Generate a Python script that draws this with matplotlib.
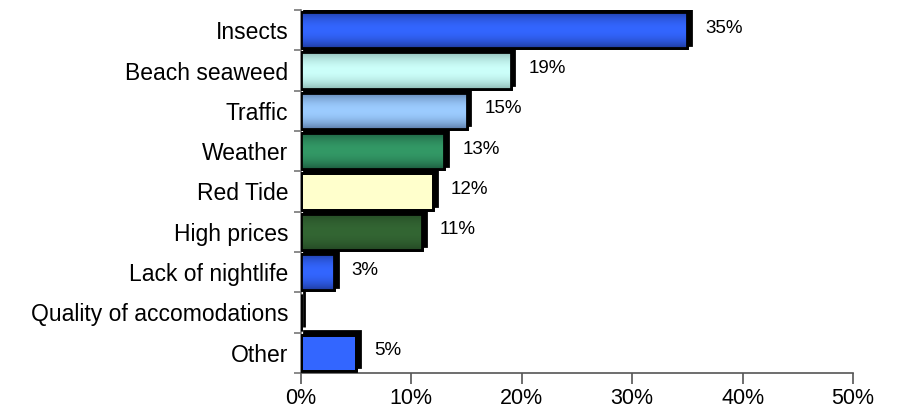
import numpy as np
import matplotlib.pyplot as plt
from matplotlib.colors import to_rgb
from matplotlib.transforms import ScaledTranslation
from matplotlib.ticker import PercentFormatter

# data
categories = ["Insects", "Beach seaweed", "Traffic", "Weather", "Red Tide",
              "High prices", "Lack of nightlife", "Quality of accomodations", "Other"]
values = [35, 19, 15, 13, 12, 11, 3, 0, 5]
labels = ["35%", "19%", "15%", "13%", "12%", "11%", "3%", "", "5%"]

# fill colours: (edge of gradient, centre of gradient)
fills = [("#1E3A9C", "#3366FF"),
         ("#8DB9B3", "#CCFFFA"),
         ("#5A7AA6", "#9CCCFF"),
         ("#1C5A3E", "#339966"),
         ("#FFFFCC", "#FFFFCC"),
         ("#244824", "#336633"),
         ("#1E3A9C", "#3366FF"),
         ("#3366FF", "#3366FF"),
         ("#3366FF", "#3366FF")]

plt.rcParams['font.family'] = ['Liberation Sans', 'DejaVu Sans']

fig = plt.figure(figsize=(9.03, 4.12), dpi=100)
ax = fig.add_axes([0.3333, 0.0947, 0.6113, 0.881])

y = np.arange(len(categories))
h = 0.9

# drop shadow: same bars shifted up and right
shift = ax.transData + ScaledTranslation(0.035, 0.035, fig.dpi_scale_trans)
ax.barh(y, values, height=h, color='black', edgecolor='black', linewidth=2,
        transform=shift, zorder=1)

bars = ax.barh(y, values, height=h, color=[f[1] for f in fills],
               edgecolor='black', linewidth=2, zorder=2)

# vertical gradients clipped to each bar
t = np.linspace(0, 1, 64)
prof = np.abs(np.sin(np.pi * t)) ** 0.8
for bar, (c_edge, c_mid), v, yi in zip(bars, fills, values, y):
    if v == 0 or c_edge == c_mid:
        continue
    e = np.array(to_rgb(c_edge))
    m = np.array(to_rgb(c_mid))
    img = e[None, :] + (m - e)[None, :] * prof[:, None]
    im = ax.imshow(img[:, None, :], extent=[0, v, yi + h / 2, yi - h / 2],
                   aspect='auto', zorder=3, interpolation='bilinear')
    im.set_clip_path(bar)

# outlines on top
ax.barh(y, values, height=h, color='none', edgecolor='black', linewidth=2, zorder=4)

for v, yi, lab in zip(values, y, labels):
    if lab:
        ax.text(v + 1.6, yi - 0.05, lab, va='center', ha='left', fontsize=13.5, zorder=5)

ax.set_xlim(0, 50)
ax.set_ylim(len(categories) - 0.5, -0.5)
ax.set_xticks(np.arange(0, 51, 10))
ax.xaxis.set_major_formatter(PercentFormatter(decimals=0))
ax.set_yticks(y)
ax.set_yticklabels(categories)
ax.set_yticks(np.arange(-0.5, len(categories), 1), minor=True)
ax.tick_params(axis='y', which='major', length=0, pad=9, labelsize=16.5)
ax.tick_params(axis='y', which='minor', length=5, color='#777777', width=1.2)
ax.tick_params(axis='x', length=8, color='#555555', width=1.2, pad=3, labelsize=15.5)

for s in ['top', 'right']:
    ax.spines[s].set_visible(False)
ax.spines['left'].set_color('#777777')
ax.spines['bottom'].set_color('#555555')
ax.spines['left'].set_linewidth(1.2)
ax.spines['bottom'].set_linewidth(1.2)

fig.savefig('out.png', dpi=100)
